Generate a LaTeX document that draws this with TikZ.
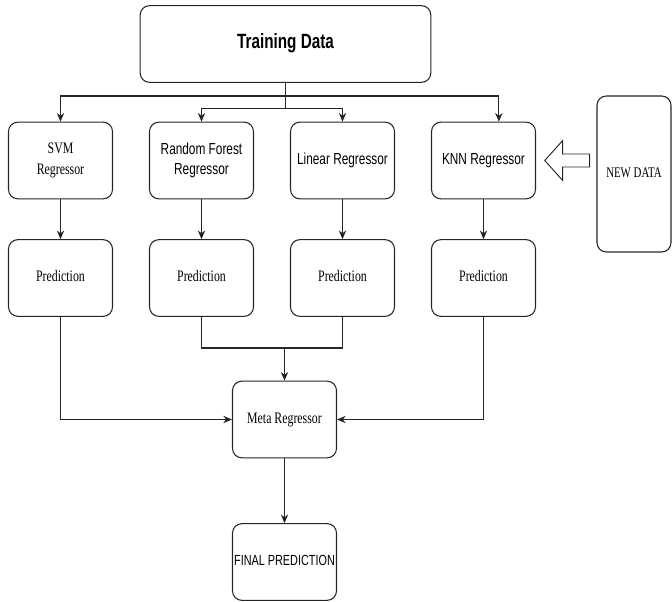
\documentclass[tikz,border=0pt]{standalone}
\usepackage{fontspec}
\usepackage{graphicx}
\setmainfont{Liberation Serif}
\setsansfont{Liberation Sans}
\usetikzlibrary{arrows.meta}

\newcommand{\narrowtext}[1]{\scalebox{0.74}[1]{\begin{tabular}{@{}c@{}}#1\end{tabular}}}

\begin{document}
\begin{tikzpicture}[x=0.75pt,y=-0.75pt,
        box/.style={draw=black!85,line width=0.8pt,rounded corners=7pt,
            minimum width=78pt,minimum height=57.5pt,inner sep=0pt,align=center},
        sanslabel/.style={font=\sffamily\fontsize{12}{14}\selectfont},
        seriflabel/.style={font=\rmfamily\fontsize{12}{14}\selectfont},
        conn/.style={draw=black!85,line width=0.8pt},
        >={Stealth[length=6.5pt,width=5.5pt]}]
                \useasboundingbox (0,0) rectangle (672,602);

                \node[box,sanslabel,minimum width=218pt,font=\sffamily\bfseries\fontsize{15.5}{17}\selectfont] (train) at (285.5,44) {\narrowtext{Training Data}};

                \node[box,seriflabel] (svm) at (60.5,160.5) {\narrowtext{SVM\\[1.5pt]Regressor}};
                \node[box,sanslabel] (rf) at (201.5,160.5) {\narrowtext{Random Forest\\[1pt]Regressor}};
                \node[box,sanslabel] (lin) at (342.5,160.5) {\narrowtext{Linear Regressor}};
                \node[box,sanslabel] (knn) at (483.5,160.5) {\narrowtext{KNN Regressor}};

                \node[box,seriflabel,minimum width=55.5pt,minimum height=117pt,font=\rmfamily\fontsize{11}{13}\selectfont] (newdata) at (634,174) {\narrowtext{NEW DATA}};

                \node[box,seriflabel] (svmp) at (60.5,278) {\narrowtext{Prediction}};
                \node[box,seriflabel] (rfp) at (201.5,278) {\narrowtext{Prediction}};
                \node[box,seriflabel] (linp) at (342.5,278) {\narrowtext{Prediction}};
                \node[box,seriflabel] (knnp) at (483.5,278) {\narrowtext{Prediction}};

                \node[box,seriflabel] (meta) at (284.5,419.5) {\narrowtext{Meta Regressor}};
                \node[box,sanslabel,font=\sffamily\fontsize{11}{13}\selectfont] (final) at (284.5,562) {\narrowtext{FINAL PREDICTION}};

                \coordinate (split) at (285.5,96);
                \coordinate (subsplit) at (285.5,108.5);
                \coordinate (join) at (284.5,348);

                % training data to the four regressors
                \path [conn] (train) -- (split);
                \path [conn,->] (split) -| (svm.north);
                \path [conn,->] (split) -| ([xshift=11.5pt]knn.north);
                \path [conn] (split) -- (subsplit);
                \path [conn,->] (subsplit) -| (rf.north);
                \path [conn,->] (subsplit) -| (lin.north);

                % new data into knn
                \path [conn,line width=0.7pt] ([xshift=6.5pt]knn.east) -- ++(18,-20) -- ++(0,13.5) -- ++(27,0)
                    -- ++(0,13) -- ++(-27,0) -- ++(0,13.5) -- cycle;

                \path [conn,->] (svm) edge (svmp);
                \path [conn,->] (rf) edge (rfp);
                \path [conn,->] (lin) edge (linp);
                \path [conn,->] (knn) edge (knnp);

                % predictions to meta regressor
                \path [conn] (rfp.south) |- (join);
                \path [conn] (linp.south) |- (join);
                \path [conn,->] (join) -- (meta.north);
                \path [conn,->] (svmp.south) |- (meta.west);
                \path [conn,->] (knnp.south) |- (meta.east);

                \path [conn,->] (meta) edge (final);
            \end{tikzpicture}
\end{document}
